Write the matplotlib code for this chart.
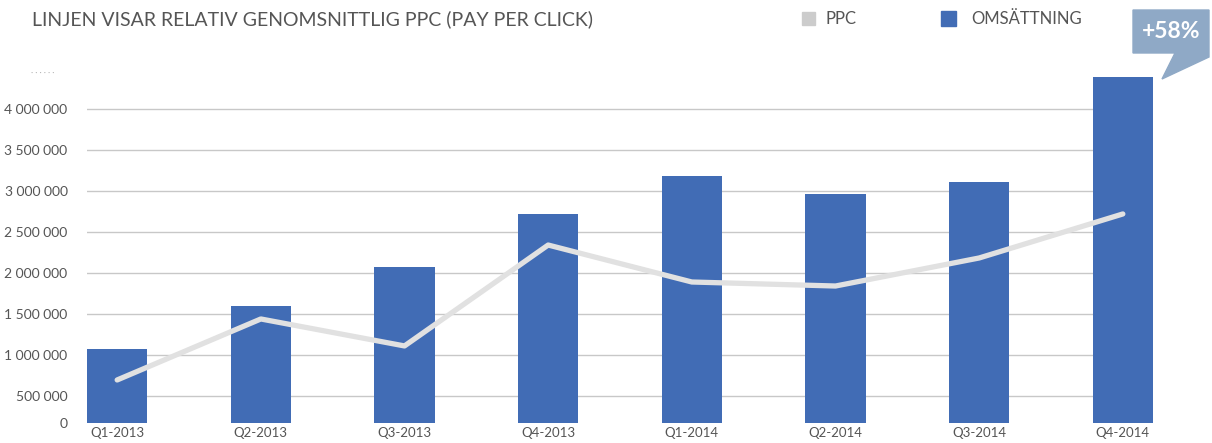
import numpy as np
import matplotlib.pyplot as plt
from matplotlib.patches import Polygon, Rectangle

quarters = ['Q1-2013', 'Q2-2013', 'Q3-2013', 'Q4-2013', 'Q1-2014', 'Q2-2014', 'Q3-2014', 'Q4-2014']
omsattning = [1073000, 1598000, 2073000, 2720000, 3183000, 2963000, 3110000, 4390000]
ppc = [695000, 1439000, 1110000, 2341000, 1890000, 1841000, 2183000, 2720000]
y_ticks = [500000, 1000000, 1500000, 2000000, 2500000, 3000000, 3500000, 4000000]
title = 'LINJEN VISAR RELATIV GENOMSNITTLIG PPC (PAY PER CLICK)'
callout = '+58%'

plt.rcParams['font.family'] = ['Lato', 'DejaVu Sans']
W, H = 1212, 443
fig = plt.figure(figsize=(W / 100, H / 100), dpi=100)

# axes placed in pixel terms
ax_left, ax_right, ax_top, ax_bottom = 87, 1153, 55, 423
ax = fig.add_axes([ax_left / W, (H - ax_bottom) / H, (ax_right - ax_left) / W, (ax_bottom - ax_top) / H])

bar_color = '#416cb5'
line_color = '#e1e1e1'
text_color = '#555555'

x = np.arange(len(quarters))
ax.bar(x, omsattning, width=0.42, color=bar_color, zorder=2)
ax.plot(x, ppc, color=line_color, lw=3.8, solid_capstyle='round', zorder=3)

# the original axis is clipped a little above zero, bottom tick still reads "0"
ybottom = 170000
ax.set_ylim(ybottom, 4659000)
ax.set_xlim(-0.21, 7.21)
ax.set_yticks([ybottom] + y_ticks)
ax.set_yticklabels(['0'] + ['{:,}'.format(v).replace(',', ' ') for v in y_ticks])
ax.set_xticks(x)
ax.set_xticklabels(quarters)
for v in y_ticks:
    ax.axhline(v, color='#c8c8c8', lw=1, zorder=1)
ax.tick_params(length=0, colors=text_color, labelsize=9.5)
ax.tick_params(axis='y', pad=14, labelsize=10)
ax.tick_params(axis='x', pad=3)
for s in ax.spines.values():
    s.set_visible(False)

# faded truncated label at top
ax.text(-0.44, 4440000, '· · · · · ·', color='#b0b0b0', fontsize=6, ha='right', va='center',
        transform=ax.transData, clip_on=False)

# title
fig.text(32 / W, 1 - 19 / H, title, color=text_color, fontsize=14, va='center', ha='left')

# legend
fig.patches.append(Rectangle((802 / W, 1 - 25 / H), 13 / W, 13 / H, transform=fig.transFigure,
                             color='#cccccc', figure=fig))
fig.text(825 / W, 1 - 19 / H, 'PPC', color=text_color, fontsize=12, va='center')
fig.patches.append(Rectangle((941 / W, 1 - 26 / H), 15 / W, 15 / H, transform=fig.transFigure,
                             color=bar_color, figure=fig))
fig.text(971 / W, 1 - 19 / H, 'OMSÄTTNING', color=text_color, fontsize=12, va='center')

# callout bubble
pts = [(1133, 10), (1209, 10), (1209, 57), (1162, 79), (1175, 53), (1133, 53)]
fig.patches.append(Polygon([(px / W, 1 - py / H) for px, py in pts], closed=True,
                           transform=fig.transFigure, color='#8fa9c6', figure=fig))
fig.text(1171 / W, 1 - 32 / H, callout, color='white', fontsize=16.5, fontweight='bold',
         ha='center', va='center')

fig.savefig('out.png', dpi=100)
